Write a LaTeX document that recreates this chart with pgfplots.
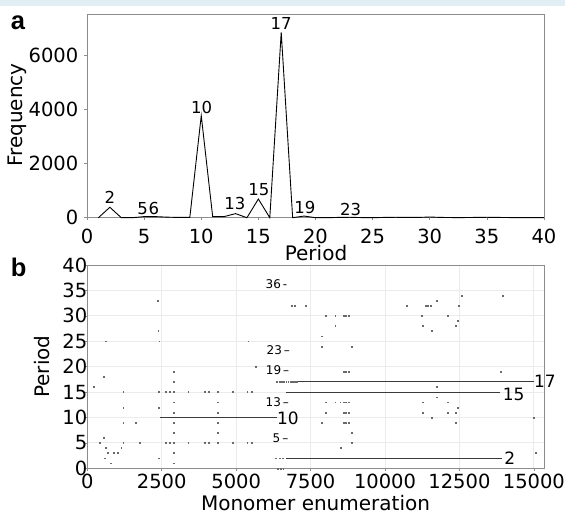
\documentclass[border=0pt]{standalone}
\usepackage{fontspec}
\setmainfont{DejaVu Sans}
\newfontfamily\letterfont{Liberation Sans}
\usepackage{pgfplots}
\usepackage{pgfplotstable}
\pgfplotsset{compat=1.18}
\definecolor{band}{HTML}{E1EFF4}
\definecolor{frame}{HTML}{8C8C8C}
\definecolor{gridc}{HTML}{EBEBEB}
\definecolor{dotc}{HTML}{6A6A6A}
\definecolor{linec}{HTML}{3A3A3A}

\newcommand{\tickfont}{\fontsize{19.5}{20}\selectfont}
\newcommand{\labfont}{\fontsize{20}{22}\selectfont}
\newcommand{\peakfont}{\fontsize{16.5}{18}\selectfont}
\newcommand{\linelabfont}{\fontsize{17}{18}\selectfont}
\newcommand{\smallfont}{\fontsize{12}{13}\selectfont}

% panel a: frequency of each period
\pgfplotstableread{
p f
1 0
2 385
3 0
4 0
5 40
6 40
7 20
8 10
9 10
10 3770
11 40
12 40
13 150
14 0
15 690
16 0
17 6850
18 0
19 60
20 0
21 0
22 10
23 15
24 5
25 0
26 10
27 15
28 10
29 10
30 25
31 10
32 5
33 5
34 10
35 15
36 10
37 5
38 0
39 0
40 0
}\freqtab

% panel b: isolated period calls along the array
\pgfplotstableread{
x y
201 16
560 18
628 25
403 5
560 6
628 4
672 3
896 3
1020 3
594 2
795 1
1140 4
1208 5
1208 9
1208 12
1208 15
1634 9
1746 5
2362 33
2384 27
2417 25
2406 15
2406 12
2406 2
2630 15
2630 5
2776 15
2776 5
2888 15
2888 19
2888 17
2888 13
2888 11
2888 9
2888 7
2888 5
2888 3
2888 1
3390 15
3390 5
3950 15
3950 5
4085 15
4085 5
4375 15
4375 13
4375 11
4375 9
4375 7
4375 5
4878 15
4878 5
5404 25
5370 15
5520 15
5370 5
5520 5
5662 20
6333 2
6450 2
6560 2
6400 0
6500 0
6580 0
6356 17
6450 17
6520 17
6600 17
6680 17
6750 17
6820 17
6900 17
6960 17
7030 17
6860 32
6970 32
7340 32
8013 30
8325 30
8605 30
8690 30
8773 30
8325 28
7866 26
7866 24
8872 24
8605 19
8690 19
8773 19
13884 19
11725 16
11725 14
8013 13
8325 13
8493 13
8605 13
8690 13
8773 13
11255 13
12115 13
12450 12
8013 11
8605 11
8690 11
8773 11
11255 11
12115 11
12360 11
11560 10
14990 10
7866 9
8605 9
8690 9
8773 9
12360 9
8894 7
8894 5
8514 4
15058 3
12565 34
13960 34
11725 33
10717 32
11367 32
11440 32
11525 32
12485 32
11222 30
12115 30
12430 29
11255 28
12360 28
11560 27
}\calltab

\begin{document}
\begin{tikzpicture}
\useasboundingbox (0pt,0pt) rectangle (565pt,513pt);
\fill[band] (0pt,507pt) rectangle (565pt,513pt);

\pgfplotsset{
  every axis/.append style={
    scale only axis,
    anchor=south west,
    axis line style={frame, line width=0.8pt},
    tick style={frame, line width=0.6pt},
    tick align=outside,
    major tick length=2.5pt,
    xtick pos=bottom, ytick pos=left,
    scaled ticks=false,
    /pgf/number format/assume math mode=true,
    /pgf/number format/set thousands separator={},
    xticklabel style={font=\tickfont, inner sep=0pt, anchor=north},
    yticklabel style={font=\tickfont, inner sep=0pt, anchor=east},
  }
}

% ---- a ----
\begin{axis}[at={(87pt,295.3pt)}, width=457pt, height=203pt,
  xmin=0, xmax=40, ymin=0, ymax=7500,
  xtick={0,5,...,40}, ytick={0,2000,4000,6000},
  xticklabel style={yshift=-9pt}, yticklabel style={xshift=-6pt},
  clip=false]
\addplot[black, line width=0.9pt, sharp plot] table[x=p, y=f] {\freqtab};
\node[font=\peakfont, anchor=base, inner sep=0pt] at (axis cs:2.01,507) {2};
\node[font=\peakfont, anchor=base, inner sep=0pt] at (axis cs:4.87,126) {5};
\node[font=\peakfont, anchor=base, inner sep=0pt] at (axis cs:5.86,126) {6};
\node[font=\peakfont, anchor=base, inner sep=0pt] at (axis cs:10.04,3867) {10};
\node[font=\peakfont, anchor=base, inner sep=0pt] at (axis cs:12.95,285) {13};
\node[font=\peakfont, anchor=base, inner sep=0pt] at (axis cs:15.05,815) {15};
\node[font=\peakfont, anchor=base, inner sep=0pt] at (axis cs:17,6952) {17};
\node[font=\peakfont, anchor=base, inner sep=0pt] at (axis cs:19.08,137) {19};
\node[font=\peakfont, anchor=base, inner sep=0pt] at (axis cs:23.08,74) {23};
\end{axis}

% ---- b ----
\begin{axis}[at={(87.3pt,44.7pt)}, width=457pt, height=203.3pt,
  xmin=0, xmax=15350, ymin=0, ymax=40,
  xtick={0,2500,...,15000}, ytick={0,5,...,40},
  grid=major, grid style={gridc, line width=0.8pt},
  xticklabel style={yshift=-3.4pt}, yticklabel style={xshift=2.7pt},
  clip=false]
\addplot[only marks, mark=square*, mark size=0.42pt, dotc] table[x=x, y=y] {\calltab};
\addplot[linec, line width=1pt] coordinates {(2450,10) (6365,10)};
\addplot[linec, line width=1pt] coordinates {(7080,17) (14990,17)};
\addplot[linec, line width=1pt] coordinates {(6690,15) (13870,15)};
\addplot[linec, line width=1pt] coordinates {(6690,2) (13920,2)};
\node[font=\linelabfont, anchor=west, inner sep=0pt] at (axis cs:6365,9.84) {10};
\node[font=\linelabfont, anchor=west, inner sep=0pt] at (axis cs:15000,17.05) {17};
\node[font=\linelabfont, anchor=west, inner sep=0pt] at (axis cs:13950,14.6) {15};
\node[font=\linelabfont, anchor=west, inner sep=0pt] at (axis cs:14000,1.9) {2};
\node[font=\smallfont, anchor=east, inner sep=0pt] at (axis cs:6722,36.2) {36\,-};
\node[font=\smallfont, anchor=east, inner sep=0pt] at (axis cs:6813,23.3) {23\,--};
\node[font=\smallfont, anchor=east, inner sep=0pt] at (axis cs:6790,19.35) {19\,--};
\node[font=\smallfont, anchor=east, inner sep=0pt] at (axis cs:6780,13.1) {13\,--};
\node[font=\smallfont, anchor=east, inner sep=0pt] at (axis cs:6757,5.9) {5\,--};
\end{axis}

% titles and panel letters
\node[font=\labfont, anchor=base] at (316pt,252.3pt) {Period};
\node[font=\labfont, anchor=base, rotate=90] at (22.6pt,398.1pt) {Frequency};
\node[font=\labfont, anchor=base, rotate=90] at (50pt,146.3pt) {Period};
\node[font=\labfont, anchor=base] at (315.5pt,2.9pt) {Monomer enumeration};
\node[font=\letterfont\bfseries\fontsize{25.5}{26}\selectfont, anchor=base west, inner sep=0pt] at (10.7pt,483.7pt) {a};
\node[font=\letterfont\bfseries\fontsize{25.5}{26}\selectfont, anchor=base west, inner sep=0pt] at (10.7pt,236.3pt) {b};
\end{tikzpicture}
\end{document}
